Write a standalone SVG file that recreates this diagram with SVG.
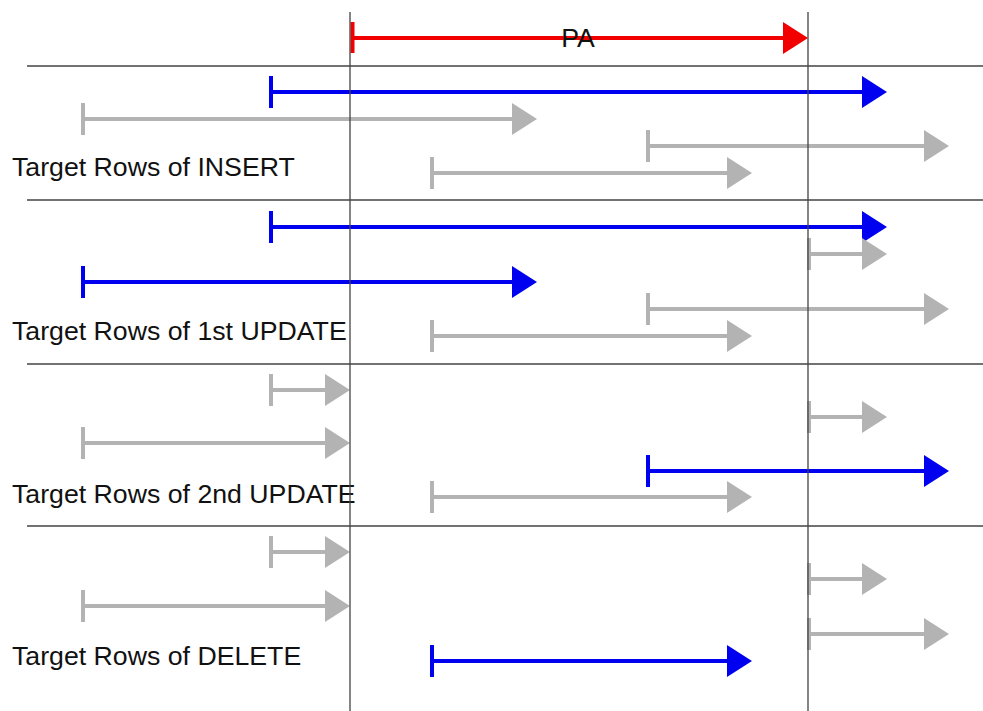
<svg xmlns="http://www.w3.org/2000/svg" width="983" height="711" viewBox="0 0 983 711">
  <style>
    .bar { fill: none; stroke-width: 4; stroke-linecap: butt; }
    .gray { stroke: #b3b3b3; marker-end: url(#head-gray); }
    .blue { stroke: #0000f0; marker-end: url(#head-blue); }
    .red  { stroke: #f20000; marker-end: url(#head-red); }
    .grid { stroke: #444444; stroke-width: 1.3; fill: none; }
    .label { font-family: "Liberation Sans", Arial, sans-serif; font-size: 26.7px; fill: #111; }
  </style>
  <defs>
    <marker id="head-gray" markerUnits="userSpaceOnUse" markerWidth="25" markerHeight="32" refX="0" refY="16" orient="auto" overflow="visible">
      <path d="M0,0 L25,16 L0,32 Z" fill="#b3b3b3"/>
    </marker>
    <marker id="head-blue" markerUnits="userSpaceOnUse" markerWidth="25" markerHeight="32" refX="0" refY="16" orient="auto" overflow="visible">
      <path d="M0,0 L25,16 L0,32 Z" fill="#0000f0"/>
    </marker>
    <marker id="head-red" markerUnits="userSpaceOnUse" markerWidth="25" markerHeight="32" refX="0" refY="16" orient="auto" overflow="visible">
      <path d="M0,0 L25,16 L0,32 Z" fill="#f20000"/>
    </marker>
  </defs>

  <rect width="983" height="711" fill="#ffffff"/>

  <!-- each bar: start tick, then shaft ending where the head begins (tip - 25) -->
  <g id="pa">
    <path class="bar red" d="M352.5,22 V53 M352.5,38 H783"/>
    <text class="label" x="578" y="47" text-anchor="middle">PA</text>
  </g>

  <g id="insert">
    <path class="bar blue" d="M271,76 V108 M271,92 H862"/>
    <path class="bar gray" d="M83,103 V135 M83,119 H512"/>
    <path class="bar gray" d="M648,130 V162 M648,146 H924"/>
    <path class="bar gray" d="M432,157 V189 M432,173 H727"/>
    <text class="label" x="12" y="176">Target Rows of INSERT</text>
  </g>

  <g id="update1">
    <path class="bar blue" d="M271,211 V243 M271,227 H862"/>
    <path class="bar gray" d="M809,238 V270 M809,254 H862"/>
    <path class="bar blue" d="M83,266 V298 M83,282 H512"/>
    <path class="bar gray" d="M648,293 V325 M648,309 H924"/>
    <path class="bar gray" d="M432,320 V352 M432,336 H727"/>
    <text class="label" x="12" y="340">Target Rows of 1st UPDATE</text>
  </g>

  <g id="update2">
    <path class="bar gray" d="M271,374 V406 M271,390 H325"/>
    <path class="bar gray" d="M809,401 V433 M809,417 H862"/>
    <path class="bar gray" d="M83,427 V459 M83,443 H325"/>
    <path class="bar blue" d="M648,455 V487 M648,471 H924"/>
    <path class="bar gray" d="M432,481 V513 M432,497 H727"/>
    <text class="label" x="12" y="503">Target Rows of 2nd UPDATE</text>
  </g>

  <g id="delete">
    <path class="bar gray" d="M271,536 V568 M271,552 H325"/>
    <path class="bar gray" d="M809,563 V595 M809,579 H862"/>
    <path class="bar gray" d="M83,590 V622 M83,606 H325"/>
    <path class="bar gray" d="M809,618 V650 M809,634 H924"/>
    <path class="bar blue" d="M432,645 V677 M432,661 H727"/>
    <text class="label" x="12" y="665">Target Rows of DELETE</text>
  </g>

  <!-- section separators and the two PA boundary lines, drawn over the bars -->
  <g id="connectors">
    <path class="grid" d="M27,66 H983 M27,200 H983 M27,364 H983 M27,526 H983"/>
    <path class="grid" d="M350,12 V711 M808,12 V711"/>
  </g>
</svg>
